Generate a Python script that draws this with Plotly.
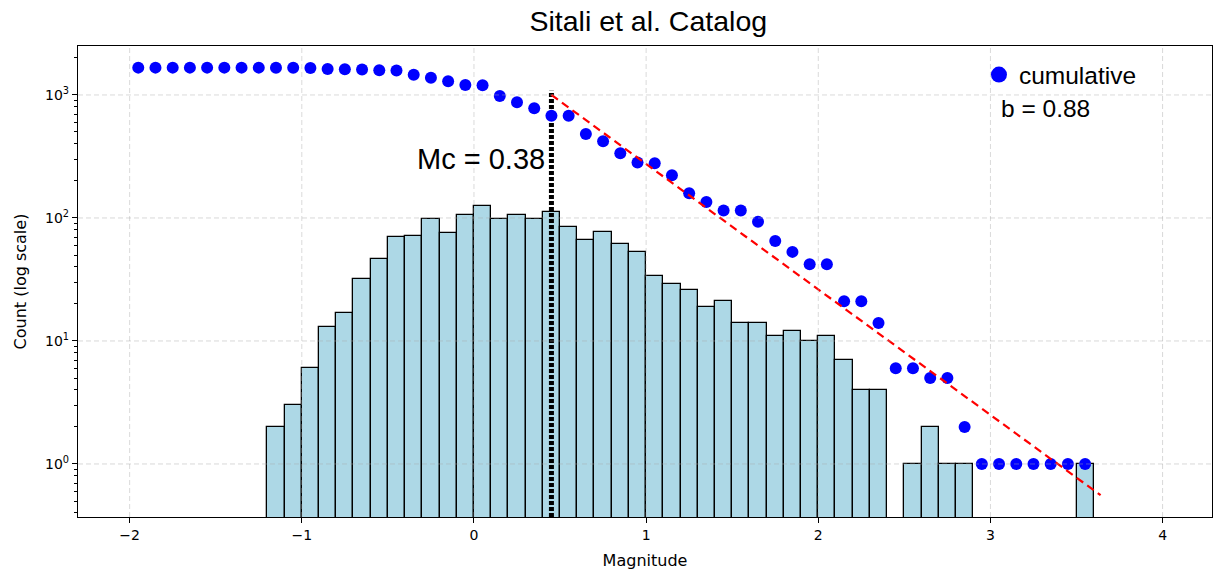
import numpy as np
import plotly.graph_objects as go

# ---- data -----------------------------------------------------------------
BIN_WIDTH = 0.1

# left edges of the magnitude bins and event counts per bin
bin_left = [-1.2, -1.1, -1.0, -0.9, -0.8, -0.7, -0.6, -0.5, -0.4, -0.3, -0.2, -0.1,
            0.0, 0.1, 0.2, 0.3, 0.4, 0.5, 0.6, 0.7, 0.8, 0.9, 1.0, 1.1, 1.2, 1.3,
            1.4, 1.5, 1.6, 1.7, 1.8, 1.9, 2.0, 2.1, 2.2, 2.3, 2.4, 2.5, 2.6, 2.7,
            2.8, 2.9, 3.0, 3.1, 3.2, 3.3, 3.4, 3.5]
bin_counts = [2, 3, 6, 13, 17, 32, 46, 70, 71, 98, 76, 106,
              125, 98, 105, 98, 112, 85, 66, 77, 62, 53, 34, 29, 26, 19,
              21, 14, 14, 11, 12, 10, 11, 7, 4, 4, 0, 1, 2, 1,
              1, 0, 0, 0, 0, 0, 0, 1]

# cumulative number of events at or above each magnitude
cum_mag = [-1.95, -1.85, -1.75, -1.65, -1.55, -1.45, -1.35, -1.25, -1.15, -1.05,
           -0.95, -0.85, -0.75, -0.65, -0.55, -0.45, -0.35, -0.25, -0.15, -0.05,
           0.05, 0.15, 0.25, 0.35, 0.45, 0.55, 0.65, 0.75, 0.85, 0.95,
           1.05, 1.15, 1.25, 1.35, 1.45, 1.55, 1.65, 1.75, 1.85, 1.95,
           2.05, 2.15, 2.25, 2.35, 2.45, 2.55, 2.65, 2.75, 2.85, 2.95,
           3.05, 3.15, 3.25, 3.35, 3.45, 3.55]
cum_count = [1668, 1668, 1668, 1668, 1668, 1668, 1668, 1668, 1666, 1663,
             1658, 1627, 1620, 1610, 1588, 1580, 1462, 1383, 1290, 1206,
             1200, 981, 873, 780, 679, 679, 482, 420, 336, 282,
             279, 222, 159, 135, 115, 115, 93, 65, 53, 42,
             42, 21, 21, 14, 6, 6, 5, 5, 2, 1,
             1, 1, 1, 1, 1, 1]

MC = 0.38          # magnitude of completeness
B_VALUE = 0.88     # Gutenberg-Richter b-value

# straight-line fit of log10(N) drawn above the completeness bin
fit_log_n_at_mc = 3.0
fit_slope = 1.02
fit_m_max = 3.64

# ---- derived geometry -------------------------------------------------------
bin_centers = [round(b + BIN_WIDTH / 2, 3) for b in bin_left]
bar_heights = [c if c > 0 else None for c in bin_counts]

mc_x = round(MC, 1) + BIN_WIDTH / 2          # centre of the bin holding Mc
fit_m = np.linspace(mc_x, fit_m_max, 50)
fit_n = 10 ** (fit_log_n_at_mc - fit_slope * (fit_m - mc_x))

X_RANGE = [-2.30, 4.287]
Y_RANGE = [-0.431, 3.398]   # log10 units

FONT_TEXT = "Liberation Sans, Arial, sans-serif"
FONT_AXES = "DejaVu Sans, sans-serif"

fig = go.Figure()

# histogram of event counts
fig.add_trace(go.Bar(
    x=bin_centers, y=bar_heights, width=BIN_WIDTH,
    marker=dict(color="#ADD8E6", line=dict(color="black", width=1.3)),
    showlegend=False, name="count",
))

# completeness magnitude marker
fig.add_trace(go.Scatter(
    x=[mc_x, mc_x], y=[10 ** Y_RANGE[0], 10 ** (fit_log_n_at_mc + 0.035)],
    mode="lines", line=dict(color="black", width=5, dash="4px,2px"),
    showlegend=False, hoverinfo="skip",
))

# cumulative counts
fig.add_trace(go.Scatter(
    x=cum_mag, y=cum_count, mode="markers",
    marker=dict(color="#0000FF", size=12),
    name="cumulative", showlegend=False, legendgroup="cum",
))
# legend entry for the cumulative series (larger glyph)
fig.add_trace(go.Scatter(
    x=[None], y=[None], mode="markers",
    marker=dict(color="#0000FF", size=16),
    name="cumulative", showlegend=True, legendgroup="cum",
))

# Gutenberg-Richter fit line
fig.add_trace(go.Scatter(
    x=fit_m, y=fit_n, mode="lines",
    line=dict(color="#FF0000", width=2.2, dash="8px,5px"),
    showlegend=False, hoverinfo="skip",
))

# dashed grid drawn over the bars
grid_style = dict(color="rgba(170,170,170,0.45)", width=1, dash="5px,3px")
for gx in [-2, -1, 0, 1, 2, 3, 4]:
    fig.add_shape(type="line", xref="x", yref="paper", x0=gx, x1=gx, y0=0, y1=1,
                  line=grid_style, layer="above")
for gy in [1, 10, 100, 1000]:
    fig.add_shape(type="line", xref="paper", yref="y", x0=0, x1=1, y0=gy, y1=gy,
                  line=grid_style, layer="above")

fig.add_annotation(
    x=mc_x, y=np.log10(300), xref="x", yref="y",
    text=f"Mc = {MC:.2f}", showarrow=False, xanchor="right", yanchor="middle",
    xshift=-4, font=dict(family=FONT_TEXT, size=29, color="black"),
)
fig.add_annotation(
    x=0.8125, y=0.868, xref="paper", yref="paper",
    text=f"b = {B_VALUE:.2f}", showarrow=False, xanchor="left", yanchor="middle",
    font=dict(family=FONT_TEXT, size=24.5, color="black"),
)

minor_vals = [m * 10 ** k for k in range(-1, 4) for m in range(2, 10)]

fig.update_layout(
    width=1214, height=574,
    margin=dict(l=78, r=2, t=46, b=57),
    paper_bgcolor="white", plot_bgcolor="white",
    title=dict(text="Sitali et al. Catalog", x=0.534, xanchor="center",
               y=0.963, yanchor="middle",
               font=dict(family=FONT_TEXT, size=28.5, color="black")),
    legend=dict(x=0.7945, y=0.987, xanchor="left", yanchor="top",
                bgcolor="rgba(255,255,255,0)", borderwidth=0,
                font=dict(family=FONT_TEXT, size=24.5, color="black")),
    bargap=0,
    xaxis=dict(
        range=X_RANGE, tickvals=[-2, -1, 0, 1, 2, 3, 4],
        showgrid=False, zeroline=False,
        showline=True, linecolor="black", linewidth=1.2, mirror=True,
        ticks="outside", ticklen=5, tickcolor="black",
        tickfont=dict(family=FONT_AXES, size=14, color="black"),
        title=dict(text="Magnitude", standoff=12,
                   font=dict(family=FONT_AXES, size=16, color="black")),
    ),
    yaxis=dict(
        type="log", range=Y_RANGE,
        tickvals=[1, 10, 100, 1000],
        ticktext=["10<sup>0</sup>", "10<sup>1</sup>", "10<sup>2</sup>", "10<sup>3</sup>"],
        showgrid=False, zeroline=False,
        showline=True, linecolor="black", linewidth=1.2, mirror=True,
        ticks="outside", ticklen=5, tickcolor="black",
        minor=dict(tickvals=minor_vals, ticks="outside", ticklen=3,
                   tickcolor="black", showgrid=False),
        tickfont=dict(family=FONT_AXES, size=14, color="black"),
        title=dict(text="Count (log scale)", standoff=14,
                   font=dict(family=FONT_AXES, size=16, color="black")),
    ),
)

fig.write_html("out.html")
